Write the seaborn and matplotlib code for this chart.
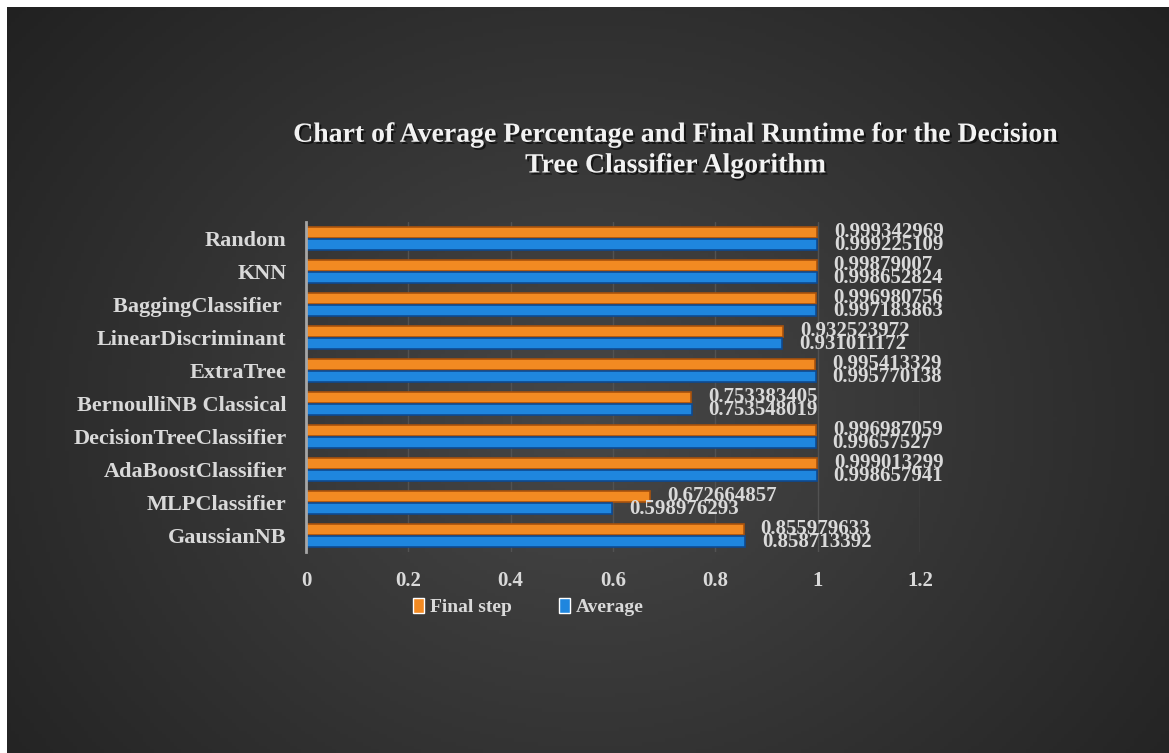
import numpy as np
import pandas as pd
import seaborn as sns
import matplotlib.pyplot as plt
import matplotlib.patheffects as pe

models = ["Random", "KNN", "BaggingClassifier ", "LinearDiscriminant", "ExtraTree",
          "BernoulliNB Classical", "DecisionTreeClassifier", "AdaBoostClassifier",
          "MLPClassifier", "GaussianNB"]
final_step = [0.999342969, 0.99879007, 0.996980756, 0.932523972, 0.995413329,
              0.753383405, 0.996987059, 0.999013299, 0.672664857, 0.855979633]
average = [0.999225109, 0.998652824, 0.997183863, 0.931011172, 0.995770138,
           0.753548019, 0.99657527, 0.998657941, 0.598976293, 0.858713392]
final_labels = ["0.999342969", "0.99879007", "0.996980756", "0.932523972", "0.995413329",
                "0.753383405", "0.996987059", "0.999013299", "0.672664857", "0.855979633"]
avg_labels = ["0.999225109", "0.998652824", "0.997183863", "0.931011172", "0.995770138",
              "0.753548019", "0.99657527", "0.998657941", "0.598976293", "0.858713392"]
series = ["Final step", "Average"]
x_ticks = [0, 0.2, 0.4, 0.6, 0.8, 1, 1.2]
x_tick_labels = ["0", "0.2", "0.4", "0.6", "0.8", "1", "1.2"]

df = pd.DataFrame({
    "Model": models * 2,
    "Value": final_step + average,
    "Series": ["Final step"] * len(models) + ["Average"] * len(models),
})

sns.set_theme(style="white")
plt.rcParams["font.family"] = ["Liberation Serif", "DejaVu Serif"]
plt.rcParams["font.weight"] = "bold"

W, H = 1169, 753
fig = plt.figure(figsize=(W / 100, H / 100), dpi=100, facecolor="white")

# dark radial-gradient background, white strip on top/left like the source
bg = fig.add_axes([7 / W, 0, 1 - 7 / W, 1 - 7 / H])
yy, xx = np.mgrid[0:200, 0:300]
r = np.sqrt(((xx - 150) / 170.0) ** 2 + ((yy - 110) / 150.0) ** 2)
shade = np.clip(0.28 - 0.13 * r, 0.13, 0.28)
bg.imshow(np.dstack([shade] * 3), aspect="auto", extent=[0, 1, 0, 1])
bg.set_axis_off()

ax = fig.add_axes([306 / W, 1 - 552 / H, 614 / W, 330 / H])
ax.set_facecolor("none")

palette = {"Final step": "#F28A22", "Average": "#1F86DE"}
edges = {"Final step": "#A9520C", "Average": "#0D4A92"}
sns.barplot(data=df, x="Value", y="Model", hue="Series", hue_order=series,
            order=models, orient="h", palette=palette, width=0.74, gap=0.08,
            saturation=1, ax=ax)

for cont, name, labs in zip(ax.containers, series, [final_labels, avg_labels]):
    for bar in cont:
        bar.set_edgecolor(edges[name])
        bar.set_linewidth(1.2)
    ax.bar_label(cont, labels=labs, padding=12, color="#d9d9d9",
                 fontsize=15, fontweight="bold")

ax.set_xlim(0, 1.2)
ax.set_xticks(x_ticks)
ax.set_xticklabels(x_tick_labels)
ax.set_xlabel("")
ax.set_ylabel("")
ax.grid(axis="x", color="#525252", linewidth=1)
ax.grid(axis="y", visible=False)
ax.set_axisbelow(True)
for s in ["top", "right", "bottom"]:
    ax.spines[s].set_visible(False)
ax.spines["left"].set_color("#a6a6a6")
ax.spines["left"].set_linewidth(2)
ax.tick_params(axis="x", length=0, pad=14, labelsize=15, labelcolor="#d9d9d9")
ax.tick_params(axis="y", length=0, pad=14, labelsize=16, labelcolor="#d9d9d9")
for t in ax.get_xticklabels() + ax.get_yticklabels():
    t.set_fontweight("bold")

handles, labels = ax.get_legend_handles_labels()
ax.get_legend().remove()
leg = fig.legend(handles, labels, loc="center", bbox_to_anchor=(0.452, 0.194), ncol=2,
                 frameon=False, handlelength=0.6, handleheight=0.8, handletextpad=0.3,
                 columnspacing=2.4, prop={"size": 14, "weight": "bold"})
for t in leg.get_texts():
    t.set_color("#d9d9d9")

fig.text(0.578, 0.8,
         "Chart of Average Percentage and Final Runtime for the Decision\nTree Classifier Algorithm",
         ha="center", va="center", fontsize=20, fontweight="bold", color="#f2f2f2",
         linespacing=1.3,
         path_effects=[pe.SimplePatchShadow(offset=(1.5, -1.5), shadow_rgbFace="black", alpha=0.6),
                       pe.Normal()])

fig.savefig("out.png", dpi=100, facecolor="white")
